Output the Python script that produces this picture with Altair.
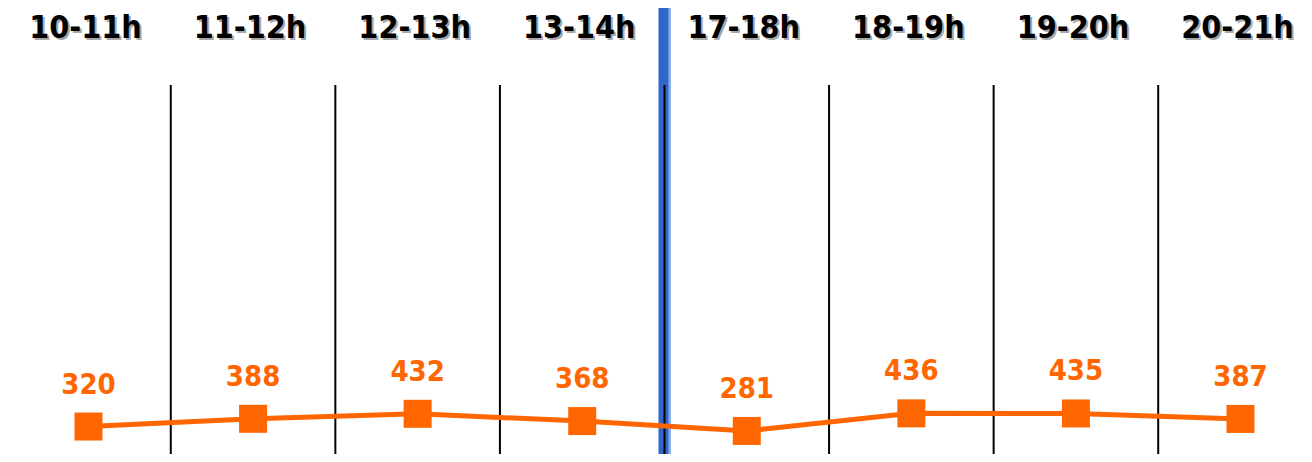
import altair as alt
import pandas as pd

# Data
slots = ["10-11h", "11-12h", "12-13h", "13-14h", "17-18h", "18-19h", "19-20h", "20-21h"]
values = [320, 388, 432, 368, 281, 436, 435, 387]
break_after = 3  # gap in time between 13-14h and 17-18h

idx = list(range(len(slots)))
df = pd.DataFrame({"idx": idx, "slot": slots, "value": values,
                   "label": [str(v) for v in values]})
seps = pd.DataFrame({"pos": [i - 0.5 for i in idx]})
brk = pd.DataFrame({"pos": [break_after + 0.5]})

W, H = 1296, 446
xscale = alt.Scale(domain=[-0.48915, 7.38591], nice=False, zero=False)
yscale = alt.Scale(domain=[78, 4007], nice=False, zero=False)
FONT = "DejaVu Sans Condensed"
ORANGE = "#FF6600"

x_pt = alt.X("idx:Q", scale=xscale, axis=None)
y_pt = alt.Y("value:Q", scale=yscale, axis=None)
x_brk = alt.X("pos:Q", scale=xscale, axis=None)

blue_edge = alt.Chart(brk).mark_rule(color="#8FAEE6", strokeWidth=3, xOffset=5).encode(
    x=x_brk, y=alt.value(0), y2=alt.value(H))

blue = alt.Chart(brk).mark_rule(color="#3366CC", strokeWidth=10, xOffset=-1).encode(
    x=x_brk, y=alt.value(0), y2=alt.value(H))

rules = alt.Chart(seps).mark_rule(color="black", strokeWidth=2).encode(
    x=alt.X("pos:Q", scale=xscale, axis=None),
    y=alt.value(77), y2=alt.value(H))

line = alt.Chart(df).mark_line(color=ORANGE, strokeWidth=5).encode(x=x_pt, y=y_pt)

pts = alt.Chart(df).mark_point(shape="square", filled=True, size=784,
                               color=ORANGE, opacity=1, strokeWidth=0).encode(x=x_pt, y=y_pt)

vals = alt.Chart(df).mark_text(font=FONT, fontWeight="bold", fontSize=29,
                               color=ORANGE, baseline="middle", align="center",
                               dy=-42).encode(x=x_pt, y=y_pt, text="label:N")

shadow = alt.Chart(df).mark_text(font=FONT, fontWeight="bold", fontSize=32,
                                 color="#A8A8A8", baseline="alphabetic", align="center",
                                 dx=-1).encode(x=x_pt, y=alt.value(32), text="slot:N")

heads = alt.Chart(df).mark_text(font=FONT, fontWeight="bold", fontSize=32,
                                color="black", baseline="alphabetic", align="center",
                                dx=-3).encode(x=x_pt, y=alt.value(30), text="slot:N")

chart = alt.layer(blue_edge, blue, rules, line, pts, vals, shadow, heads).properties(
    width=W, height=H, padding=0, background="white",
    autosize=alt.AutoSizeParams(type="none")
).configure_view(stroke=None)

chart.save("out.html", embed_options={"renderer": "svg", "actions": False})
